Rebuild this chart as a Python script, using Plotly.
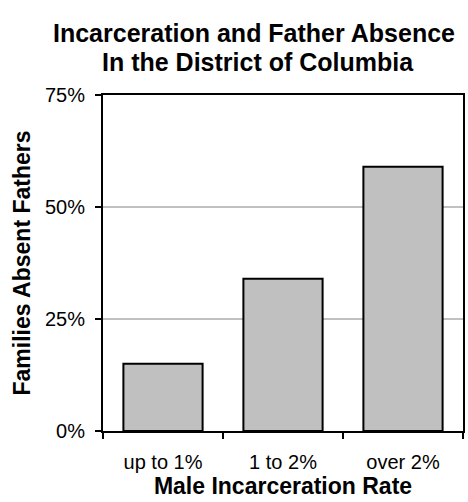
import plotly.graph_objects as go

categories = ["up to 1%", "1 to 2%", "over 2%"]
values = [15, 34, 59]
y_ticks = [0, 25, 50, 75]
y_tick_labels = ["0%", "25%", "50%", "75%"]

FONT = "Arial, Liberation Sans, sans-serif"

fig = go.Figure(go.Bar(
    x=categories, y=values,
    marker=dict(color="#C0C0C0", line=dict(color="black", width=2)),
    hoverinfo="skip",
))

fig.update_layout(
    width=468, height=502,
    margin=dict(l=103, r=3, t=95, b=71),
    paper_bgcolor="white", plot_bgcolor="white",
    bargap=0.34,
    showlegend=False,
    font=dict(family=FONT, color="black"),
    annotations=[
        dict(text="<b>Incarceration and Father Absence</b>", xref="paper", yref="paper",
             x=0.42, y=1, yshift=62, xanchor="center", yanchor="middle",
             showarrow=False, font=dict(size=25, family=FONT)),
        dict(text="<b>In the District of Columbia</b>", xref="paper", yref="paper",
             x=0.43, y=1, yshift=33, xanchor="center", yanchor="middle",
             showarrow=False, font=dict(size=25, family=FONT)),
    ],
)

fig.update_xaxes(
    type="category",
    showline=True, linecolor="black", linewidth=2, mirror=True,
    ticks="outside", tickson="boundaries", ticklen=6, tickwidth=2, tickcolor="black",
    tickfont=dict(size=20, family=FONT),
    ticklabelstandoff=12,
    title=dict(text="<b>Male Incarceration Rate</b>", font=dict(size=23, family=FONT), standoff=6),
    showgrid=False,
)
fig.update_yaxes(
    range=[0, 75],
    tickvals=y_ticks, ticktext=y_tick_labels,
    showline=True, linecolor="black", linewidth=2, mirror=True,
    ticks="outside", ticklen=6, tickwidth=2, tickcolor="black",
    tickfont=dict(size=20, family=FONT),
    ticklabelstandoff=6,
    showgrid=True, gridcolor="#C0C0C0", gridwidth=1.5,
    zeroline=False,
    title=dict(text="<b>Families Absent Fathers</b>", font=dict(size=23, family=FONT), standoff=8),
)

fig.write_html("out.html")
